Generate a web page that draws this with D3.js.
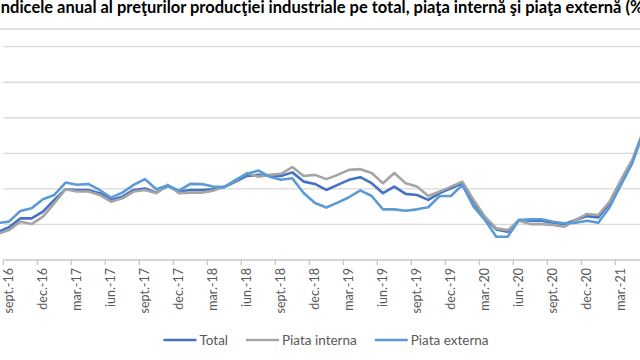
<!DOCTYPE html>
<html>
<head>
<meta charset="utf-8">
<script src="https://cdn.jsdelivr.net/npm/d3@7/dist/d3.min.js"></script>
<style>
  html, body { margin: 0; padding: 0; background: #fff; overflow: hidden; }
  svg { display: block; }
</style>
</head>
<body>
<svg id="chart" width="640" height="360"></svg>
<script>
// ---------- DATA ----------
const titleText = "Indicele anual al preţurilor producţiei industriale pe total, piaţa internă şi piaţa externă (%)";

const months = [
  "aug.-16","sept.-16","oct.-16","nov.-16","dec.-16",
  "ian.-17","feb.-17","mar.-17","apr.-17","mai-17","iun.-17","iul.-17","aug.-17","sept.-17","oct.-17","nov.-17","dec.-17",
  "ian.-18","feb.-18","mar.-18","apr.-18","mai-18","iun.-18","iul.-18","aug.-18","sept.-18","oct.-18","nov.-18","dec.-18",
  "ian.-19","feb.-19","mar.-19","apr.-19","mai-19","iun.-19","iul.-19","aug.-19","sept.-19","oct.-19","nov.-19","dec.-19",
  "ian.-20","feb.-20","mar.-20","apr.-20","mai-20","iun.-20","iul.-20","aug.-20","sept.-20","oct.-20","nov.-20","dec.-20",
  "ian.-21","feb.-21","mar.-21","apr.-21","mai-21"
];

const tickLabels = [
  "sept.-16","dec.-16","mar.-17","iun.-17","sept.-17","dec.-17","mar.-18","iun.-18",
  "sept.-18","dec.-18","mar.-19","iun.-19","sept.-19","dec.-19","mar.-20","iun.-20",
  "sept.-20","dec.-20","mar.-21"
];

const total = [
  97.57, 97.84, 98.34, 98.34, 98.72,
  99.38, 99.98, 99.94, 99.94, 99.76, 99.38, 99.56, 99.94, 100.02, 99.79, 100.17, 99.85,
  99.94, 99.94, 99.98, 100.10, 100.41, 100.73, 100.79, 100.73, 100.73, 100.93, 100.41, 100.28,
  99.94, 100.23, 100.51, 100.66, 100.32, 99.76, 100.13, 99.72, 99.66, 99.38, 99.76, 100.04,
  100.32, 99.28, 98.34, 97.72, 97.59, 98.25, 98.21, 98.21, 98.10, 98.02, 98.25, 98.47,
  98.40, 99.19, 100.41, 101.54, 103.28
];

const interna = [
  97.46, 97.68, 98.15, 98.02, 98.44,
  99.19, 99.98, 99.85, 99.85, 99.66, 99.28, 99.47, 99.85, 99.94, 99.76, 100.23, 99.76,
  99.79, 99.79, 99.90, 100.13, 100.47, 100.89, 100.69, 100.79, 100.85, 101.23, 100.73, 100.79,
  100.55, 100.79, 101.07, 101.11, 100.89, 100.32, 100.89, 100.32, 100.13, 99.60, 99.85, 100.13,
  100.41, 99.38, 98.44, 97.78, 97.68, 98.21, 98.02, 98.02, 97.97, 97.87, 98.25, 98.59,
  98.53, 99.28, 100.51, 101.64, 103.33
];

const externa = [
  98.08, 98.16, 98.76, 98.91, 99.42,
  99.66, 100.36, 100.23, 100.28, 99.94, 99.51, 99.79, 100.23, 100.55, 99.98, 100.19, 99.90,
  100.28, 100.27, 100.13, 100.10, 100.51, 100.85, 101.03, 100.69, 100.51, 100.60, 99.77, 99.21,
  98.95, 99.23, 99.53, 99.92, 99.60, 98.85, 98.85, 98.77, 98.85, 98.97, 99.60, 99.60,
  100.23, 99.00, 98.25, 97.31, 97.31, 98.25, 98.29, 98.29, 98.15, 98.06, 98.10, 98.21,
  98.10, 98.97, 100.23, 101.45, 103.22
];

const seriesNames = ["Total", "Piata interna", "Piata externa"];
const seriesColors = ["#4472C4", "#A5A5A5", "#5B9BD5"];
const seriesValues = [total, interna, externa];

const yTicks = [98, 100, 102, 104, 106, 108];
const yDomain = [96, 108];

// ---------- LAYOUT ----------
const svg = d3.select("#chart");
const font = "Lato, 'Open Sans', sans-serif";
const plotTop = 46.7, plotBottom = 260, plotLeft = 3.3;
const bandW = 34 / 3;

const x = d3.scaleBand()
  .domain(months)
  .range([plotLeft - bandW, plotLeft - bandW + months.length * bandW])
  .paddingInner(0).paddingOuter(0);

const y = d3.scaleLinear().domain(yDomain).range([plotBottom, plotTop]);

// title
const title = svg.append("text")
  .attr("x", 322).attr("y", 12.5)
  .attr("text-anchor", "middle")
  .attr("font-family", font)
  .attr("font-weight", "bold")
  .attr("font-size", 16)
  .attr("fill", "#000")
  .text(titleText);
const tw = title.node().getComputedTextLength();
title.attr("font-size", 16 * 652 / tw);

// separator line under title
svg.append("line")
  .attr("x1", 0).attr("x2", 640).attr("y1", 29).attr("y2", 29)
  .attr("stroke", "#d9d9d9").attr("stroke-width", 1.5);

// gridlines
svg.append("g").selectAll("line").data(yTicks).join("line")
  .attr("x1", plotLeft).attr("x2", 640)
  .attr("y1", d => y(d)).attr("y2", d => y(d))
  .attr("stroke", "#d9d9d9").attr("stroke-width", 1.3);

// x axis line
svg.append("line")
  .attr("x1", plotLeft).attr("x2", 640)
  .attr("y1", y(yDomain[0])).attr("y2", y(yDomain[0]))
  .attr("stroke", "#c8c8c8").attr("stroke-width", 1.3);

// tick marks at category boundaries of labelled months
svg.append("g").selectAll("line").data(tickLabels).join("line")
  .attr("x1", d => x(d)).attr("x2", d => x(d))
  .attr("y1", plotBottom).attr("y2", plotBottom + 5)
  .attr("stroke", "#c8c8c8").attr("stroke-width", 1.3);

// tick labels (rotated)
svg.append("g").selectAll("text").data(tickLabels).join("text")
  .attr("transform", d => `translate(${x(d) + x.bandwidth() / 2},${plotBottom + 8}) rotate(-90)`)
  .attr("text-anchor", "end")
  .attr("dy", "0.35em")
  .attr("font-family", font)
  .attr("font-size", 12.5)
  .attr("fill", "#595959")
  .text(d => d);

// lines
const line = d3.line()
  .x((d, i) => x(months[i]) + x.bandwidth() / 2)
  .y(d => y(d));

svg.append("g").selectAll("path").data(seriesValues).join("path")
  .attr("d", d => line(d))
  .attr("fill", "none")
  .attr("stroke", (d, i) => seriesColors[i])
  .attr("stroke-width", 2.6)
  .attr("stroke-linejoin", "round")
  .attr("stroke-linecap", "round");

// legend
const legend = svg.append("g");
const sampleW = 33, gapText = 3, gapItem = 18, legY = 340;
const items = seriesNames.map((name, i) => {
  const g = legend.append("g");
  g.append("line").attr("x1", 0).attr("x2", sampleW).attr("y1", 0).attr("y2", 0)
    .attr("stroke", seriesColors[i]).attr("stroke-width", 2.6);
  const t = g.append("text").attr("x", sampleW + gapText).attr("y", 0)
    .attr("dy", "0.35em")
    .attr("font-family", font).attr("font-size", 13.5).attr("fill", "#595959")
    .text(name);
  return { g, w: sampleW + gapText + t.node().getComputedTextLength() };
});
const totalW = d3.sum(items, d => d.w) + gapItem * (items.length - 1);
let cx = 326 - totalW / 2;
items.forEach(it => {
  it.g.attr("transform", `translate(${cx},${legY})`);
  cx += it.w + gapItem;
});
</script>
</body>
</html>
